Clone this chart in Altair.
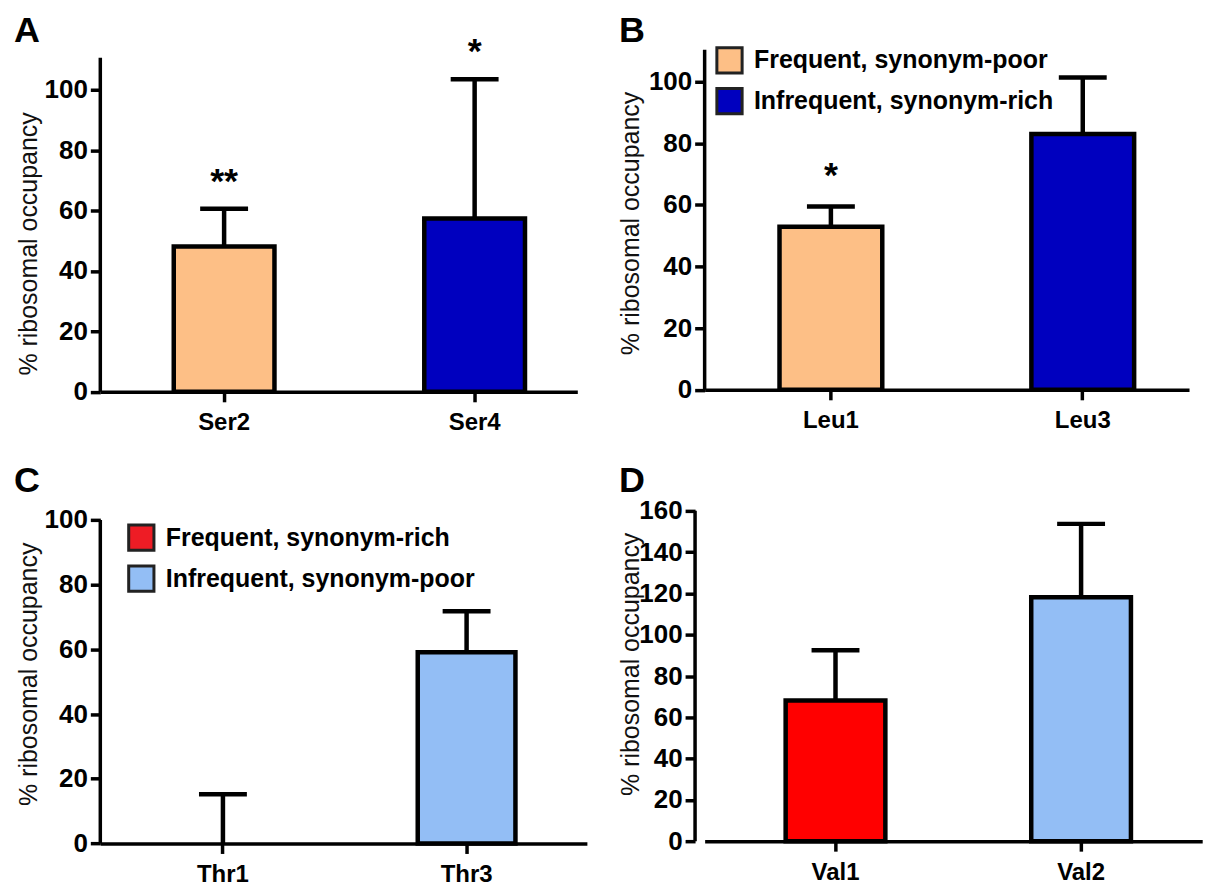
import altair as alt
import pandas as pd

FONT = "Liberation Sans"

# ---------------- data ----------------
a_cat = ["Ser2", "Ser4"]
a_mean = [48.1, 57.4]
a_err = [60.6, 103.5]
a_group = ["Frequent, synonym-poor", "Infrequent, synonym-rich"]
a_star = ["**", "*"]

b_cat = ["Leu1", "Leu3"]
b_mean = [52.9, 83.0]
b_err = [59.5, 101.3]
b_group = ["Frequent, synonym-poor", "Infrequent, synonym-rich"]
b_star = ["*", ""]

c_cat = ["Thr1", "Thr3"]
c_mean = [0.0, 59.1]
c_err = [15.2, 71.8]
c_group = ["Frequent, synonym-rich", "Infrequent, synonym-poor"]
c_star = ["", ""]

d_cat = ["Val1", "Val2"]
d_mean = [68.1, 118.1]
d_err = [92.5, 153.7]
d_group = ["Frequent, synonym-rich", "Infrequent, synonym-poor"]
d_star = ["", ""]

ticks_100 = [0, 20, 40, 60, 80, 100]
ticks_160 = [0, 20, 40, 60, 80, 100, 120, 140, 160]

ORANGE = "#FDBF86"
DBLUE = "#0000BF"
RED = "#FF0000"
RED_LEG = "#EE1C25"
LBLUE = "#93BEF5"


def panel(cat, mean, err, group, star, colors, ymax, yline, ticks,
          width, height, band, letter, letter_xy, title_xy,
          legend=None, star_dy=-13, axis_offset=0):
    df = pd.DataFrame({"cat": cat, "mean": mean, "err": err,
                       "group": group, "star": star})
    yscale = alt.Scale(domain=[0, ymax], nice=False, zero=True)
    yaxis = alt.Axis(values=ticks, domain=False, grid=False, tickSize=10,
                     tickWidth=3.5, tickColor="black", labelPadding=3,
                     offset=axis_offset,
                     labelFont=FONT, labelFontSize=26, labelFontWeight="bold",
                     labelColor="black", title="% ribosomal occupancy",
                     titleFont=FONT, titleFontSize=25, titleFontWeight="normal",
                     titleColor="#111", titleAngle=-90, titleAlign="center",
                     titleBaseline="middle", titleX=title_xy[0], titleY=title_xy[1])
    xscale = alt.Scale(paddingInner=band[0], paddingOuter=band[1], align=band[2])
    xaxis = alt.Axis(domain=True, domainWidth=3.5, domainColor="black",
                     ticks=True, tickSize=10, tickWidth=3.5, tickColor="black",
                     labelPadding=9, labelFont=FONT, labelFontSize=24,
                     labelFontWeight="bold", labelColor="black", labelAngle=0,
                     title=None, grid=False)
    X = alt.X("cat:N", sort=cat, scale=xscale, axis=xaxis)

    def Y(field):
        return alt.Y(field, scale=yscale, axis=yaxis, title="% ribosomal occupancy")

    base = alt.Chart(df)
    bars = base.mark_bar(stroke="black", strokeWidth=4.5, strokeJoin="miter").encode(
        x=X, y=Y("mean:Q"),
        color=alt.Color("group:N", scale=alt.Scale(domain=group, range=colors),
                        legend=legend),
    ).transform_filter("datum.mean > 0")
    err_line = base.mark_rule(color="black", strokeWidth=4.5).encode(
        x=X, y=Y("mean:Q"), y2="err:Q")
    cap = base.mark_tick(color="black", size=48, thickness=4.5, opacity=1).encode(
        x=X, y=Y("err:Q"))
    stars = base.mark_text(font=FONT, fontSize=36, fontWeight="bold",
                           baseline="alphabetic", dy=star_dy, color="black").encode(
        x=X, y=Y("err:Q"), text="star:N")
    axis_df = pd.DataFrame({"y0": [0], "y1": [yline]})
    yline_mark = alt.Chart(axis_df).mark_rule(color="black", strokeWidth=3.5).encode(
        x=alt.value(-axis_offset), y=Y("y0:Q"), y2="y1:Q")
    let_df = pd.DataFrame({"t": [letter]})
    let_mark = alt.Chart(let_df).mark_text(font=FONT, fontSize=36, fontWeight="bold",
                                            align="left", baseline="top",
                                            color="black").encode(
        text="t:N", x=alt.value(letter_xy[0]), y=alt.value(letter_xy[1]))
    return alt.layer(bars, err_line, cap, stars, yline_mark, let_mark).properties(
        width=width, height=height)


def make_legend(lx, ly):
    return alt.Legend(orient="none", legendX=lx, legendY=ly, title=None,
                      symbolType="square", symbolSize=640, symbolStrokeColor="#222",
                      symbolStrokeWidth=3, symbolOpacity=1,
                      labelFont=FONT, labelFontSize=25, labelFontWeight="bold",
                      labelColor="black", labelOffset=10, rowPadding=2,
                      padding=0, labelLimit=800)


pA = panel(a_cat, a_mean, a_err, a_group, a_star, [ORANGE, DBLUE],
           113.2, 110.6, ticks_100, 478, 342.7, (0.598, 0.251, 0.584),
           "A", (-86.4, -35.5), (-72.4, 194), legend=None, star_dy=-16)
pB = panel(b_cat, b_mean, b_err, b_group, b_star, [ORANGE, DBLUE],
           110.3, 110.3, ticks_100, 485.4, 340.7, (0.592, 0.2576, 0.577),
           "B", (-85.9, -35.5), (-74, 173.5), legend=make_legend(10.4, -4), star_dy=-19)
pC = panel(c_cat, c_mean, c_err, c_group, c_star, [RED_LEG, LBLUE],
           102.8, 100, ticks_100, 487.6, 333.3, (0.599, 0.298, 0.508),
           "C", (-86.4, -47.2), (-72.4, 163.3), legend=make_legend(26.6, 12.3))
pD = panel(d_cat, d_mean, d_err, d_group, d_star, [RED, LBLUE],
           160, 160, ticks_160, 498.6, 331, (0.594, 0.31, 0.532),
           "D", (-85.9, -47.2), (-65, 153.3), legend=None, axis_offset=9.6)

chart = alt.concat(
    pA, pB, pC, pD, columns=2,
    spacing={"row": 119, "column": 117.6},
    bounds="flush",
).resolve_scale(color="independent", x="independent", y="independent").properties(
    padding={"left": 5.5, "top": 4.0, "right": 0, "bottom": 0},
    background="white",
).configure_view(stroke=None)

chart.save("out.html", embed_options={"renderer": "svg", "actions": False})
